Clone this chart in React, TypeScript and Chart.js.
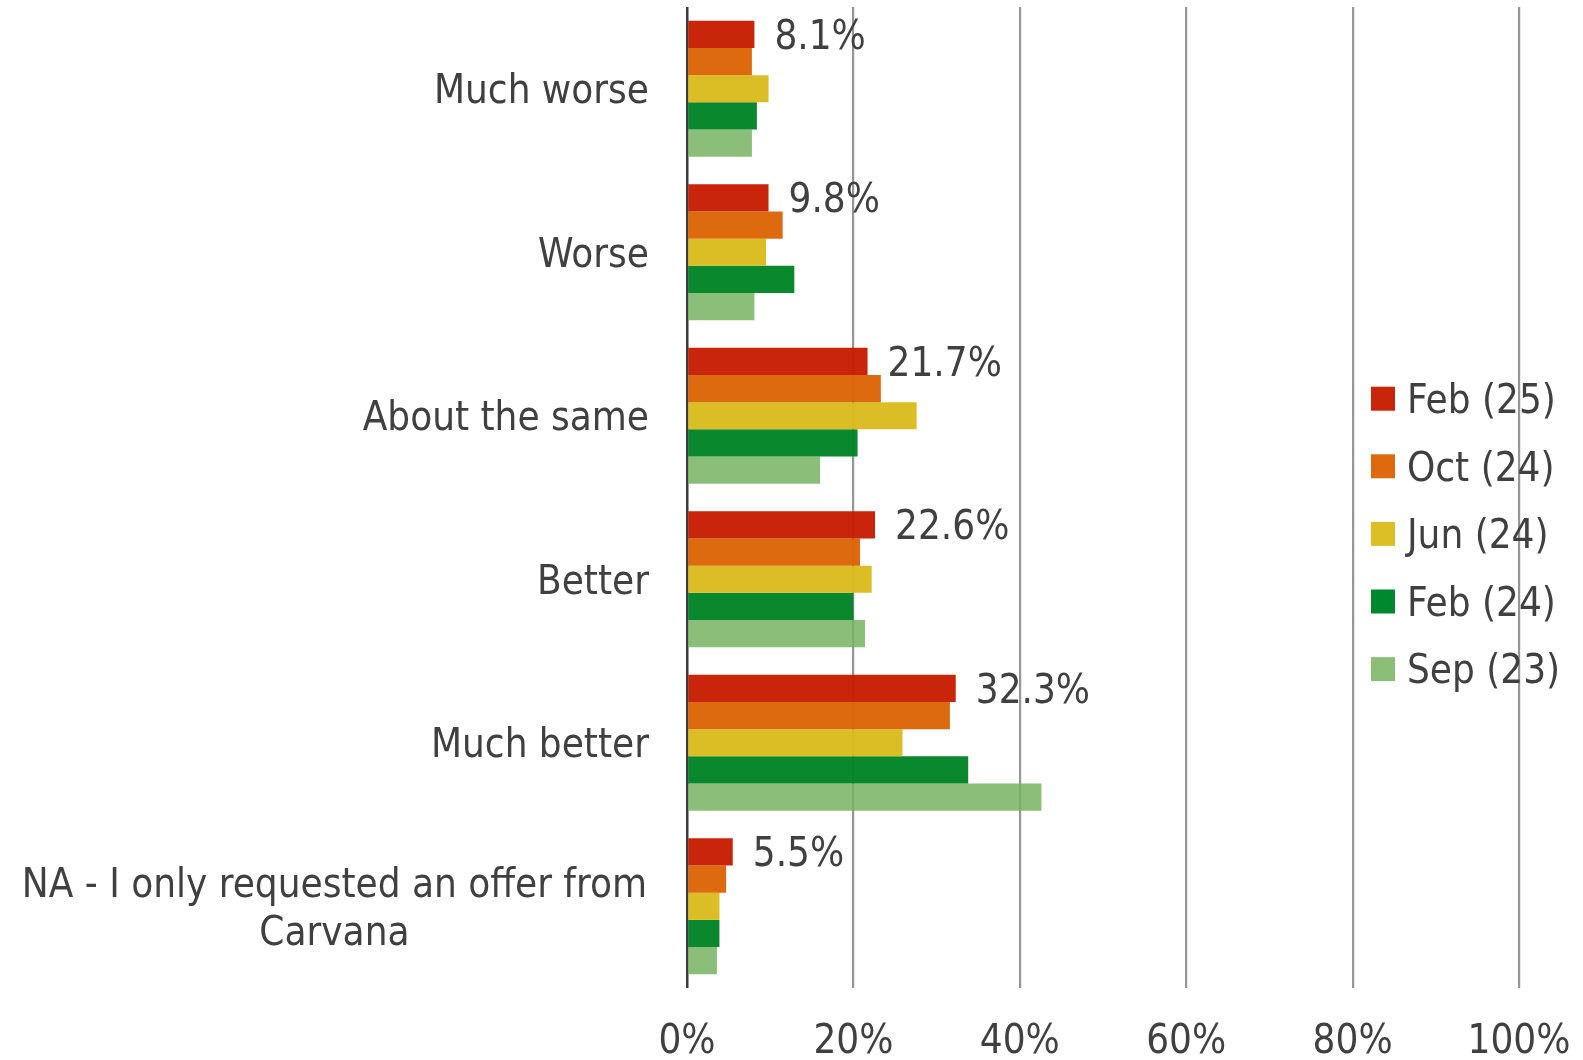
import React, { useEffect, useRef } from 'react';
import { Chart, registerables } from 'chart.js';

Chart.register(...registerables);

const categories: (string | string[])[] = [
  'Much worse',
  'Worse',
  'About the same',
  'Better',
  'Much better',
  ['NA - I only requested an offer from', 'Carvana'],
];

const seriesLabels = ['Feb (25)', 'Oct (24)', 'Jun (24)', 'Feb (24)', 'Sep (23)'];
const feb25 = [8.1, 9.8, 21.7, 22.6, 32.3, 5.5];
const oct24 = [7.8, 11.5, 23.3, 20.8, 31.6, 4.7];
const jun24 = [9.8, 9.5, 27.6, 22.2, 25.9, 3.9];
const feb24 = [8.4, 12.9, 20.5, 20.0, 33.8, 3.9];
const sep23 = [7.8, 8.1, 16.0, 21.4, 42.6, 3.6];
const xTickValues = [0, 20, 40, 60, 80, 100];

// bar fills (slightly translucent so gridlines faintly show through, as in the reference)
const seriesFills = [
  'rgba(198,28,0,0.96)',
  'rgba(221,100,6,0.96)',
  'rgba(218,187,29,0.96)',
  'rgba(0,131,37,0.96)',
  'rgba(119,179,96,0.85)',
];
// legend swatches (as they appear on white)
const seriesSwatches = ['#C8250A', '#DE6A10', '#DCBE26', '#00882E', '#8BBE78'];

const FONT_FAMILY = "'DejaVu Sans Condensed', 'DejaVu Sans', sans-serif";
const FONT_SIZE = 40;
const TEXT_COLOR = '#404040';
const TEXT_DY = 4;

const categoryLabelPlugin = {
  id: 'categoryLabels',
  afterDraw(chart: any) {
    const ctx = chart.ctx;
    const yScale = chart.scales.y;
    ctx.save();
    ctx.font = `${FONT_SIZE}px ${FONT_FAMILY}`;
    ctx.fillStyle = TEXT_COLOR;
    ctx.textBaseline = 'middle';
    const rightEdge = chart.chartArea.left - 38;
    const lineHeight = FONT_SIZE * 1.2;
    categories.forEach((cat, i) => {
      const y = yScale.getPixelForValue(i) + TEXT_DY;
      const lines = Array.isArray(cat) ? cat : [cat];
      if (lines.length === 1) {
        ctx.textAlign = 'right';
        ctx.fillText(lines[0], rightEdge, y);
      } else {
        const widest = Math.max(...lines.map((l) => ctx.measureText(l).width));
        const cx = rightEdge - 2 - widest / 2;
        ctx.textAlign = 'center';
        lines.forEach((l, j) => {
          ctx.fillText(l, cx, y + (j - (lines.length - 1) / 2) * lineHeight);
        });
      }
    });
    ctx.restore();
  },
};

const dataLabelPlugin = {
  id: 'firstSeriesLabels',
  afterDatasetsDraw(chart: any) {
    const ctx = chart.ctx;
    const meta = chart.getDatasetMeta(0);
    const values = chart.data.datasets[0].data;
    ctx.save();
    ctx.font = `${FONT_SIZE}px ${FONT_FAMILY}`;
    ctx.fillStyle = TEXT_COLOR;
    ctx.textBaseline = 'middle';
    ctx.textAlign = 'left';
    meta.data.forEach((el: any, i: number) => {
      ctx.fillText(`${values[i]}%`, el.x + 20, el.y + TEXT_DY);
    });
    ctx.restore();
  },
};

const legendPlugin = {
  id: 'overlayLegend',
  afterDraw(chart: any) {
    const ctx = chart.ctx;
    ctx.save();
    ctx.font = `${FONT_SIZE}px ${FONT_FAMILY}`;
    ctx.textBaseline = 'middle';
    ctx.textAlign = 'left';
    const x0 = 1371;
    const y0 = 398.7;
    const step = 67.6;
    chart.data.datasets.forEach((ds: any, i: number) => {
      const y = y0 + i * step;
      ctx.fillStyle = seriesSwatches[i];
      ctx.fillRect(x0, y - 12, 24, 24);
      ctx.fillStyle = TEXT_COLOR;
      ctx.fillText(ds.label, x0 + 36, y + TEXT_DY);
    });
    ctx.restore();
  },
};

export default function App() {
  const canvasRef = useRef<HTMLCanvasElement | null>(null);

  useEffect(() => {
    if (!canvasRef.current) return;
    const seriesData = [feb25, oct24, jun24, feb24, sep23];
    const chart = new Chart(canvasRef.current, {
      type: 'bar',
      data: {
        labels: categories as any,
        datasets: seriesData.map((d, i) => ({
          label: seriesLabels[i],
          data: d,
          backgroundColor: seriesFills[i],
          borderWidth: 0,
          categoryPercentage: 0.832,
          barPercentage: 1.0,
        })),
      },
      options: {
        indexAxis: 'y',
        responsive: false,
        animation: false,
        layout: { padding: { top: 7, right: 64, left: 0, bottom: 0 } },
        font: { family: FONT_FAMILY, size: FONT_SIZE },
        plugins: {
          legend: { display: false },
          tooltip: { enabled: false },
        },
        scales: {
          x: {
            min: 0,
            max: 100,
            position: 'bottom',
            afterBuildTicks: (s: any) => {
              s.ticks = xTickValues.map((v) => ({ value: v }));
            },
            ticks: {
              callback: (v: any) => `${v}%`,
              padding: 31,
              color: TEXT_COLOR,
              font: { family: FONT_FAMILY, size: FONT_SIZE },
              maxRotation: 0,
              autoSkip: false,
            },
            grid: {
              color: (c: any) => (c.tick && c.tick.value === 0 ? '#3A3A3A' : '#969696'),
              lineWidth: (c: any) => (c.tick && c.tick.value === 0 ? 2.5 : 2.2),
              drawTicks: false,
            },
            border: { display: false },
            afterFit: (s: any) => {
              s.height = 72;
              s.paddingLeft = 0;
              s.paddingRight = 0;
            },
          },
          y: {
            ticks: { display: false },
            grid: { display: false, drawTicks: false },
            border: { display: false },
            afterFit: (s: any) => {
              s.width = 687;
            },
          },
        },
      } as any,
      plugins: [dataLabelPlugin, categoryLabelPlugin, legendPlugin],
    });
    return () => chart.destroy();
  }, []);

  return (
    <div style={{ position: 'absolute', left: 0, top: 0, width: 1583, height: 1060, background: '#fff' }}>
      <canvas ref={canvasRef} width={1583} height={1060} style={{ display: 'block' }} />
    </div>
  );
}
